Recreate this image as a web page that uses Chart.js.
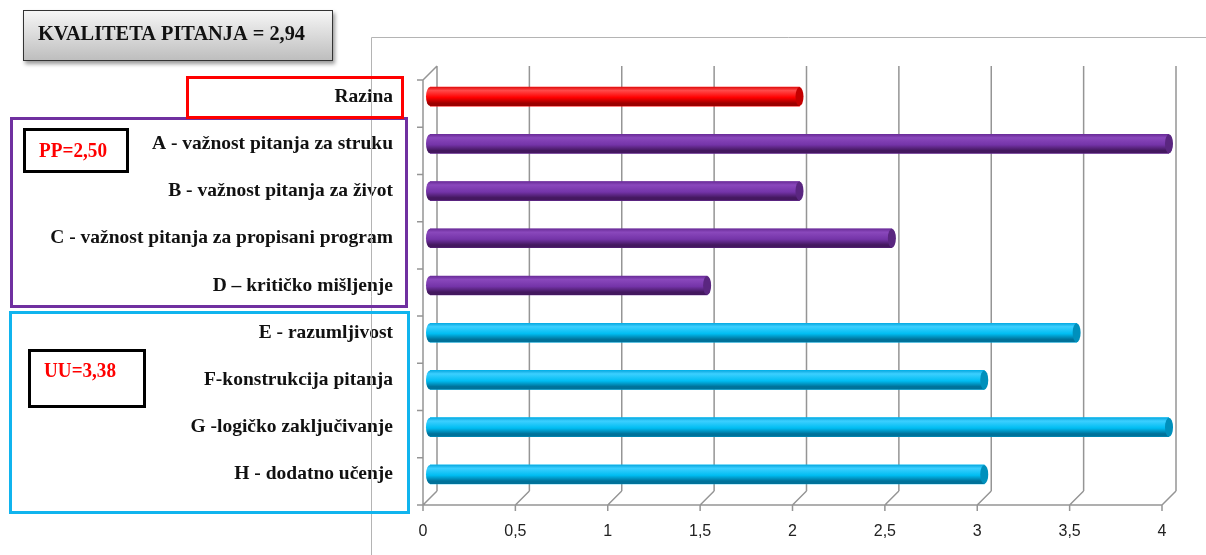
<!DOCTYPE html>
<html>
<head>
<meta charset="utf-8">
<script src="https://cdn.jsdelivr.net/npm/chart.js@4/dist/chart.umd.min.js"></script>
<style>
  html, body { margin: 0; padding: 0; background: #fff; }
  #okvir { width: 1206px; height: 555px; }
</style>
</head>
<body>
<div id="okvir"><canvas id="grafico" width="1206" height="555"></canvas></div>
<script>
// podaci
const kategorije = [
  'Razina',
  'A - važnost pitanja za struku',
  'B - važnost pitanja za život',
  'C - važnost pitanja za propisani program',
  'D – kritičko mišljenje',
  'E - razumljivost',
  'F-konstrukcija pitanja',
  'G -logičko zaključivanje',
  'H - dodatno učenje'
];
const vrijednosti = [2, 4, 2, 2.5, 1.5, 3.5, 3, 4, 3];
const grupe = ['razina', 'pp', 'pp', 'pp', 'pp', 'uu', 'uu', 'uu', 'uu'];
const xOznake = [0, 0.5, 1, 1.5, 2, 2.5, 3, 3.5, 4];
const naslov = 'KVALITETA PITANJA = 2,94';
const ppOznaka = 'PP=2,50';
const uuOznaka = 'UU=3,38';

const boje = { razina: '#ff0000', pp: '#7030a0', uu: '#00b8f0' };
// gornji rub, odsjaj, sredina, donji rub, poklopac
const nijanse = {
  razina: ['#e01010', '#ff4a4a', '#ff0000', '#9c0000', '#c40000'],
  pp:     ['#6a2c98', '#8a48bc', '#7434a8', '#44185f', '#5a2680'],
  uu:     ['#0aa8e0', '#3ccfff', '#00bdf2', '#00729a', '#0090bc']
};
const dubina = 7;

// sazeti tekst (izvornik je malo uzi i visi)
function sazetiTekst(ctx, tekst, x, y, sirina) {
  const w = ctx.measureText(tekst).width;
  ctx.save();
  ctx.translate(x, y);
  ctx.scale(sirina / w, 1);
  ctx.fillText(tekst, 0, 0);
  ctx.restore();
}

const prostor3d = {
  id: 'prostor3d',
  beforeDatasetsDraw(chart) {
    const { ctx, chartArea: a, scales: { x, y } } = chart;
    const d = dubina;
    ctx.save();
    // vanjski okvir
    ctx.strokeStyle = '#b4b4b4';
    ctx.lineWidth = 1;
    ctx.beginPath();
    ctx.moveTo(371.5, 555);
    ctx.lineTo(371.5, 37.5);
    ctx.lineTo(1206, 37.5);
    ctx.stroke();

    ctx.strokeStyle = '#959595';
    ctx.lineWidth = 1.5;
    ctx.beginPath();
    xOznake.forEach(v => {
      const px = x.getPixelForValue(v);
      ctx.moveTo(px + d, a.top - d);
      ctx.lineTo(px + d, a.bottom - d);
      ctx.moveTo(px - d, a.bottom + d);
      ctx.lineTo(px + d, a.bottom - d);
      ctx.moveTo(px - d, a.bottom + d);
      ctx.lineTo(px - d, a.bottom + d + 6);
    });
    const x0 = x.getPixelForValue(0);
    const x4 = x.getPixelForValue(4);
    ctx.moveTo(x0 - d, a.bottom + d);
    ctx.lineTo(x4 - d, a.bottom + d);
    ctx.moveTo(x0 - d, a.top + d);
    ctx.lineTo(x0 - d, a.bottom + d);
    ctx.moveTo(x0 - d, a.top + d);
    ctx.lineTo(x0 + d, a.top - d);
    const pola = (y.getPixelForValue(1) - y.getPixelForValue(0)) / 2;
    for (let i = 0; i <= kategorije.length; i++) {
      const py = y.getPixelForValue(i) - pola + d;
      ctx.moveTo(x0 - d - 6, py);
      ctx.lineTo(x0 - d, py);
    }
    ctx.stroke();
    ctx.restore();
  },
  afterDatasetsDraw(chart) {
    const { ctx } = chart;
    const meta = chart.getDatasetMeta(0);
    ctx.save();
    meta.data.forEach((el, i) => {
      const n = nijanse[grupe[i]];
      const h = el.height;
      const gore = el.y - h / 2;
      const g = ctx.createLinearGradient(0, gore, 0, gore + h);
      g.addColorStop(0, n[0]);
      g.addColorStop(0.18, n[1]);
      g.addColorStop(0.55, n[2]);
      g.addColorStop(0.85, n[3]);
      g.addColorStop(1, n[3]);
      const rx = 4;
      ctx.fillStyle = g;
      ctx.beginPath();
      ctx.ellipse(el.base, el.y, rx, h / 2, 0, Math.PI / 2, Math.PI * 1.5);
      ctx.lineTo(el.x, gore);
      ctx.lineTo(el.x, gore + h);
      ctx.closePath();
      ctx.fill();
      // poklopac
      ctx.fillStyle = n[4];
      ctx.beginPath();
      ctx.ellipse(el.x, el.y, rx, h / 2, 0, 0, Math.PI * 2);
      ctx.fill();
    });
    ctx.restore();
  },
  afterDraw(chart) {
    const { ctx } = chart;
    ctx.save();
    // naslovni okvir
    ctx.shadowColor = 'rgba(0,0,0,0.4)';
    ctx.shadowOffsetX = 2;
    ctx.shadowOffsetY = 3;
    ctx.shadowBlur = 4;
    const g = ctx.createLinearGradient(0, 10, 0, 61);
    g.addColorStop(0, '#f7f7f7');
    g.addColorStop(1, '#bdbdbd');
    ctx.fillStyle = g;
    ctx.fillRect(23, 10, 310, 51);
    ctx.shadowColor = 'transparent';
    ctx.strokeStyle = '#333';
    ctx.lineWidth = 1;
    ctx.strokeRect(23.5, 10.5, 309, 50);
    ctx.fillStyle = '#111';
    ctx.font = 'bold 22px "Liberation Serif"';
    ctx.textBaseline = 'alphabetic';
    sazetiTekst(ctx, naslov, 38, 40, 267);

    ctx.lineWidth = 3;
    ctx.strokeStyle = '#7030a0';
    ctx.strokeRect(11.5, 118.5, 395, 188);
    ctx.strokeStyle = '#ff0000';
    ctx.strokeRect(187.5, 77.5, 215, 40);
    ctx.strokeStyle = '#10b4ee';
    ctx.strokeRect(10.5, 312.5, 398, 200);

    ctx.strokeStyle = '#000';
    ctx.strokeRect(24.5, 129.5, 103, 42);
    ctx.strokeRect(29.5, 350.5, 115, 56);
    ctx.fillStyle = '#ff0000';
    ctx.font = 'bold 21px "Liberation Serif"';
    ctx.textBaseline = 'middle';
    sazetiTekst(ctx, ppOznaka, 39, 152, 68);
    sazetiTekst(ctx, uuOznaka, 44, 372, 72);
    ctx.restore();
  }
};

const ctx = document.getElementById('grafico').getContext('2d');
new Chart(ctx, {
  type: 'bar',
  data: {
    labels: kategorije,
    datasets: [{
      data: vrijednosti,
      backgroundColor: grupe.map(g => boje[g]),
      barThickness: 19,
      borderWidth: 0
    }]
  },
  options: {
    indexAxis: 'y',
    responsive: false,
    animation: false,
    devicePixelRatio: 1,
    layout: { padding: { top: 73, right: 37, left: 0, bottom: 0 } },
    plugins: {
      legend: { display: false },
      title: { display: false },
      tooltip: { enabled: false }
    },
    scales: {
      x: {
        min: 0,
        max: 4,
        afterBuildTicks: s => { s.ticks = xOznake.map(v => ({ value: v })); },
        afterFit: s => { s.height = 57; },
        grid: { display: false, drawTicks: false },
        border: { display: false },
        ticks: {
          autoSkip: false,
          maxRotation: 0,
          padding: 24,
          labelOffset: -dubina,
          color: '#222',
          font: { family: 'Liberation Sans', size: 16 },
          callback: v => String(v).replace('.', ',')
        }
      },
      y: {
        afterFit: s => { s.width = 430; },
        grid: { display: false, drawTicks: false },
        border: { display: false },
        ticks: {
          padding: 37,
          color: '#111',
          font: { family: 'Liberation Serif', size: 19.5, weight: 'bold' }
        }
      }
    }
  },
  plugins: [prostor3d]
});
</script>
</body>
</html>
